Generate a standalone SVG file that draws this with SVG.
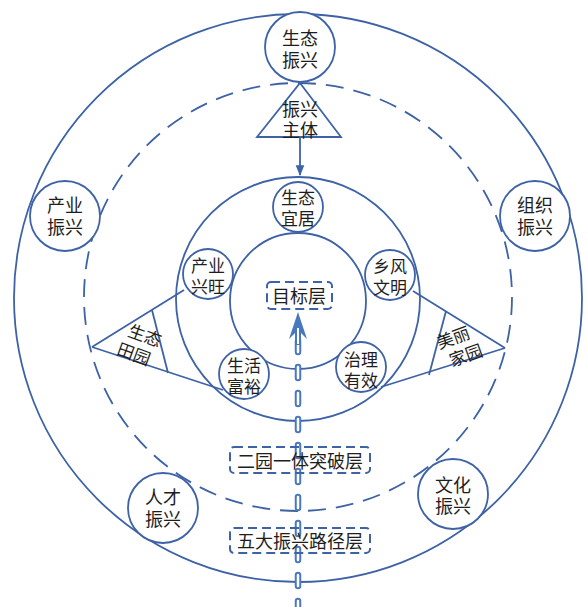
<svg xmlns="http://www.w3.org/2000/svg" width="588" height="607" viewBox="0 0 588 607">
<defs>
<style>
.ln{fill:none;stroke:#3d62a6;stroke-width:1.8}
.nd{fill:#fff;stroke:#3d62a6;stroke-width:1.8}
.dsh{fill:none;stroke:#3d62a6;stroke-width:1.8;stroke-dasharray:18 10}
.box{fill:none;stroke:#3d62a6;stroke-width:2;stroke-dasharray:9 5}
.t{font-family:"Noto Sans CJK SC","Noto Sans",sans-serif;font-size:18px;fill:#1e1e1e;text-anchor:middle;dominant-baseline:central}
.ts{font-family:"Noto Sans CJK SC","Noto Sans",sans-serif;font-size:17px;fill:#1e1e1e;text-anchor:middle;dominant-baseline:central}
.tb{font-family:"Noto Sans CJK SC","Noto Sans",sans-serif;font-size:18px;fill:#1e1e1e;text-anchor:middle;dominant-baseline:central}
</style>
<marker id="ah" viewBox="0 0 10 10" refX="9" refY="5" markerWidth="6" markerHeight="6" orient="auto">
<path d="M0,1 L10,5 L0,9 Z" fill="#3d62a6"/>
</marker>
</defs>
<rect width="588" height="607" fill="#fff"/>
<g id="rings">
<circle class="ln" cx="298" cy="298" r="284"/>
<circle class="dsh" cx="298" cy="297" r="214"/>
<circle class="ln" cx="298" cy="299" r="122"/>
<circle class="ln" cx="298" cy="301" r="68"/>
</g>
<g id="connectors">
<line class="ln" x1="300" y1="137" x2="300" y2="175" marker-end="url(#ah)"/>
<line class="ln" x1="92" y1="347" x2="184" y2="290"/>
<line class="ln" x1="92" y1="347" x2="223" y2="390"/>
<line class="ln" x1="505" y1="348" x2="413" y2="291"/>
<line class="ln" x1="505" y1="348" x2="381" y2="387"/>
<g id="flow">
<line x1="298" y1="612" x2="298" y2="334" stroke="#4a78bf" stroke-width="6.5" stroke-linecap="round" stroke-dasharray="11 15"/>
<line x1="298" y1="612" x2="298" y2="334" stroke="#fff" stroke-width="2.5" stroke-linecap="round" stroke-dasharray="11 15"/>
<path d="M298,312 L307,339 L301,333 L301,345 L295,345 L295,333 L289,339 Z" fill="#4a78bf"/>
<line x1="298" y1="328" x2="298" y2="344" stroke="#fff" stroke-width="2"/>
</g>
</g>
<g id="n-zhuti">
<path class="nd" d="M300,83 L341,137 L257,137 Z"/>
<text class="t"><tspan x="300" y="108">振兴</tspan><tspan x="300" y="129">主体</tspan></text>
</g>
<g id="n-tianyuan">
<line class="ln" x1="152" y1="310" x2="168" y2="373"/>
<text class="ts" transform="rotate(20 138 343)"><tspan x="142" y="332">生态</tspan><tspan x="138" y="353">田园</tspan></text>
</g>
<g id="n-jiayuan">
<line class="ln" x1="446" y1="311" x2="429" y2="375"/>
<text class="ts" transform="rotate(-20 460 345)"><tspan x="456" y="334">美丽</tspan><tspan x="462" y="355">家园</tspan></text>
</g>
<g id="n-shengtai-zx">
<circle class="nd" cx="300" cy="47" r="35"/>
<text class="t"><tspan x="300" y="37">生态</tspan><tspan x="300" y="59">振兴</tspan></text>
</g>
<g id="n-chanye-zx">
<circle class="nd" cx="65" cy="216" r="35"/>
<text class="t"><tspan x="65" y="204">产业</tspan><tspan x="65" y="226">振兴</tspan></text>
</g>
<g id="n-zuzhi-zx">
<circle class="nd" cx="535" cy="216" r="35"/>
<text class="t"><tspan x="535" y="204">组织</tspan><tspan x="535" y="226">振兴</tspan></text>
</g>
<g id="n-rencai-zx">
<circle class="nd" cx="163" cy="508" r="35"/>
<text class="t"><tspan x="163" y="496">人才</tspan><tspan x="163" y="518">振兴</tspan></text>
</g>
<g id="n-wenhua-zx">
<circle class="nd" cx="453" cy="494" r="35"/>
<text class="t"><tspan x="453" y="484">文化</tspan><tspan x="453" y="505">振兴</tspan></text>
</g>
<g id="n-yiju">
<circle class="nd" cx="298" cy="207" r="25"/>
<text class="ts"><tspan x="298" y="196">生态</tspan><tspan x="298" y="217">宜居</tspan></text>
</g>
<g id="n-xingwang">
<circle class="nd" cx="208" cy="274" r="25"/>
<text class="ts"><tspan x="208" y="264">产业</tspan><tspan x="208" y="285">兴旺</tspan></text>
</g>
<g id="n-wenming">
<circle class="nd" cx="390" cy="275" r="25"/>
<text class="ts"><tspan x="390" y="265">乡风</tspan><tspan x="390" y="286">文明</tspan></text>
</g>
<g id="n-fuyu">
<circle class="nd" cx="244" cy="374" r="25"/>
<text class="ts"><tspan x="244" y="364">生活</tspan><tspan x="244" y="385">富裕</tspan></text>
</g>
<g id="n-youxiao">
<circle class="nd" cx="361" cy="367" r="25"/>
<text class="ts"><tspan x="361" y="358">治理</tspan><tspan x="361" y="379">有效</tspan></text>
</g>
<g id="n-mubiao">
<rect class="box" x="267" y="282" width="65" height="27" rx="4"/>
<text class="tb" x="299" y="295">目标层</text>
</g>
<g id="n-tupo">
<rect class="box" x="230" y="447" width="140" height="26" rx="4"/>
<text class="tb" x="300" y="460">二园一体突破层</text>
</g>
<g id="n-lujing">
<rect class="box" x="230" y="528" width="140" height="25" rx="4"/>
<text class="tb" x="300" y="540">五大振兴路径层</text>
</g>
</svg>
